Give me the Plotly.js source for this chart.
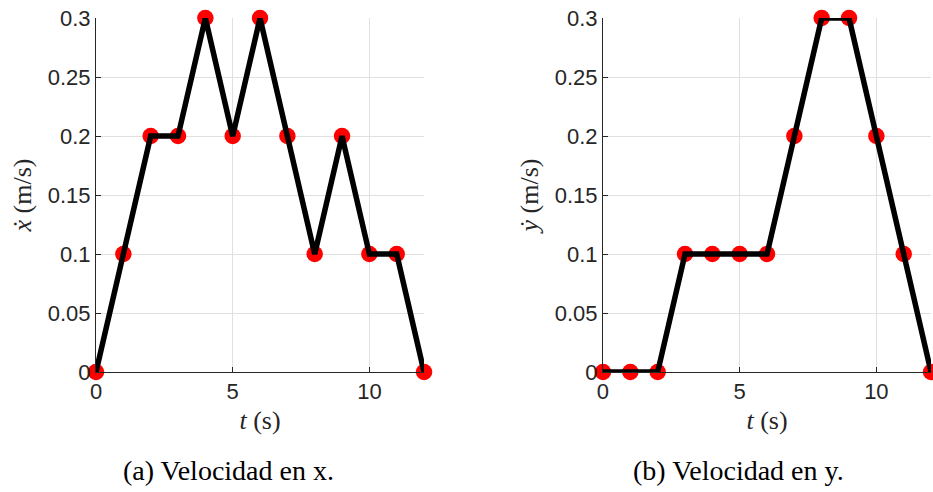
<!DOCTYPE html>
<html><head><meta charset="utf-8">
<script src="https://cdn.plot.ly/plotly-3.0.1.min.js"></script>
<style>html,body{margin:0;padding:0;background:#fff}</style>
</head><body><div id="chart" style="width:933px;height:492px"></div>
<script>
const t = [0,1,2,3,4,5,6,7,8,9,10,11,12];
const vx = [0,0.1,0.2,0.2,0.3,0.2,0.3,0.2,0.1,0.2,0.1,0.1,0];
const vy = [0,0,0,0.1,0.1,0.1,0.1,0.2,0.3,0.3,0.2,0.1,0];
const xTicks = [0,5,10];
const yTicks = [0,0.05,0.1,0.15,0.2,0.25,0.3];
const yTickText = ['0','0.05','0.1','0.15','0.2','0.25','0.3'];
const captions = ['(a) Velocidad en x.','(b) Velocidad en y.'];
const yLabels = ['<i>ẋ</i> (m/s)','<i>ẏ</i> (m/s)'];

const mk = (x,y,xa,ya)=>({x:x,y:y,xaxis:xa,yaxis:ya,mode:'markers',type:'scatter',
  marker:{color:'#ff0000',size:16.5},cliponaxis:false,hoverinfo:'skip'});
const ln = (x,y,xa,ya)=>({x:x,y:y,xaxis:xa,yaxis:ya,mode:'lines',type:'scatter',
  line:{color:'#000000',width:5.5},cliponaxis:false,hoverinfo:'skip'});

const tickFont = {family:'"Liberation Sans", Arial, sans-serif',size:22,color:'#262626'};
const titleFont = {family:'"Liberation Serif", "Times New Roman", serif',size:26,color:'#262626'};
const capFont = {family:'"Liberation Serif", "Times New Roman", serif',size:28,color:'#000'};

function xax(dom){return {domain:dom,range:[0,12],tickvals:xTicks,ticktext:xTicks.map(String),
  ticks:'inside',ticklen:5,tickcolor:'#262626',showline:true,linecolor:'#262626',linewidth:1,
  showgrid:true,gridcolor:'#e0e0e0',gridwidth:1,zeroline:false,tickfont:tickFont,
  title:{text:'<i>t</i> (s)',font:titleFont,standoff:7}};}
function yax(anchor,lab){return {domain:[0.2439,0.9634],range:[0,0.3],anchor:anchor,tickvals:yTicks,ticktext:yTickText,
  ticks:'inside',ticklen:5,tickcolor:'#262626',showline:true,linecolor:'#262626',linewidth:1,
  showgrid:true,gridcolor:'#e0e0e0',gridwidth:1,zeroline:false,tickfont:tickFont,
  title:{text:lab,font:titleFont,standoff:8}};}

const data = [mk(t,vx,'x','y'),ln(t,vx,'x','y'),mk(t,vy,'x2','y2'),ln(t,vy,'x2','y2')];
const layout = {
  width:933,height:492,margin:{l:0,r:0,t:0,b:0},showlegend:false,
  paper_bgcolor:'#fff',plot_bgcolor:'#fff',
  xaxis:Object.assign(xax([0.1029,0.4545]),{anchor:'y'}),
  yaxis:yax('x',yLabels[0]),
  xaxis2:Object.assign(xax([0.6463,0.9979]),{anchor:'y2'}),
  yaxis2:yax('x2',yLabels[1]),
  annotations:[
    {text:captions[0],xref:'paper',yref:'paper',x:228/933,y:1-470/492,xanchor:'center',yanchor:'middle',showarrow:false,font:capFont},
    {text:captions[1],xref:'paper',yref:'paper',x:738/933,y:1-470/492,xanchor:'center',yanchor:'middle',showarrow:false,font:capFont}
  ]
};
Plotly.newPlot('chart',data,layout,{staticPlot:true,displayModeBar:false});
</script></body></html>
